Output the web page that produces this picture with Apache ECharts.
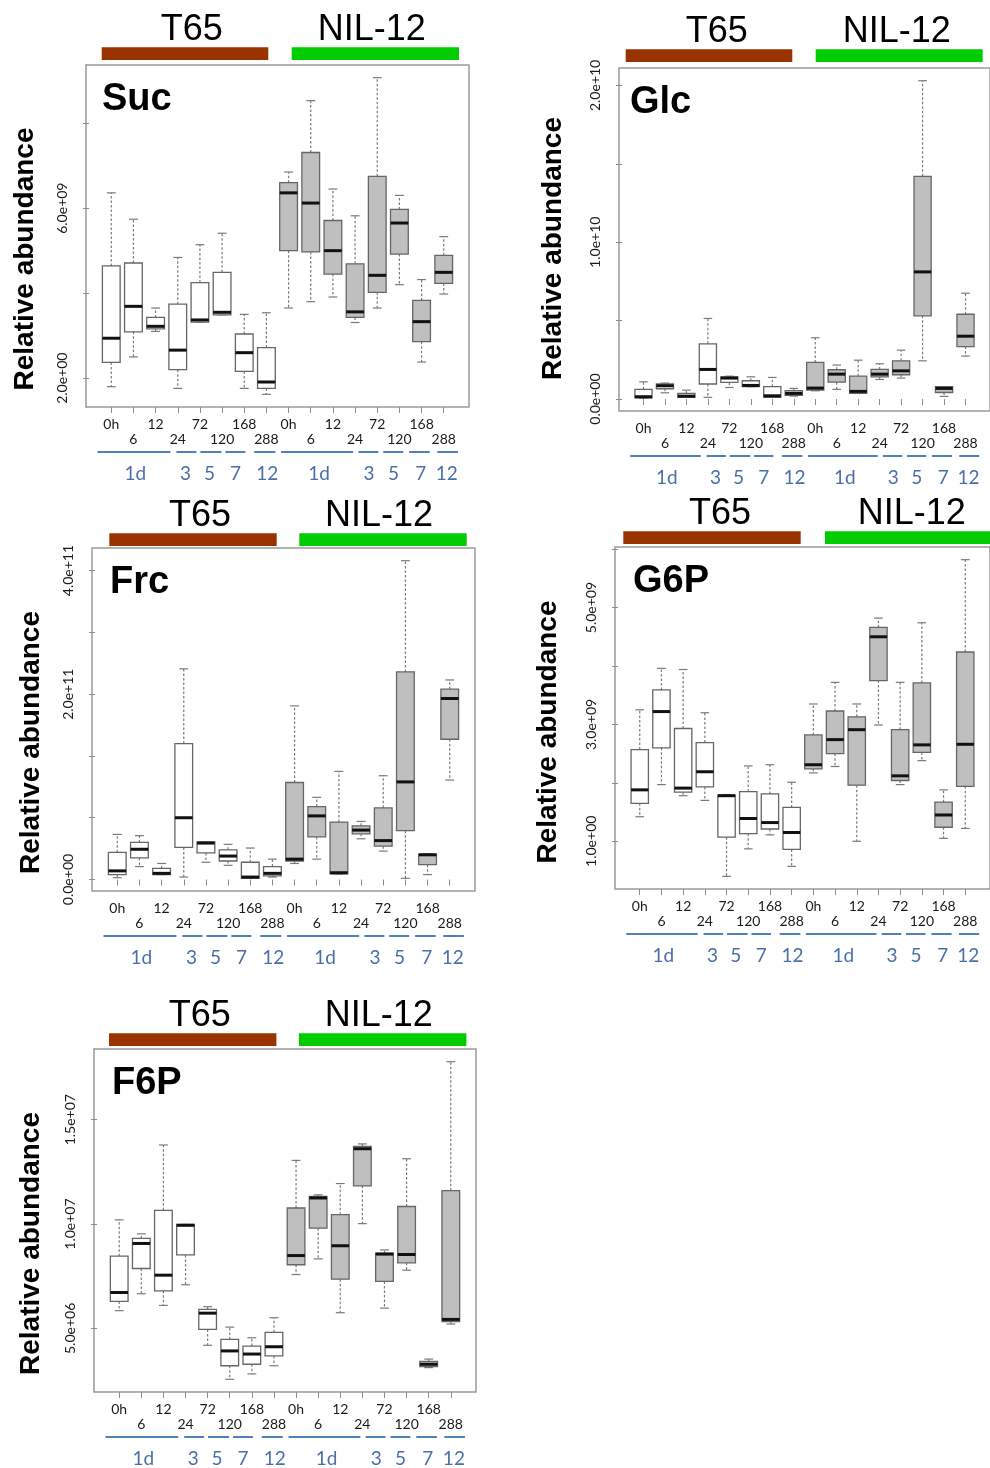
<!DOCTYPE html>
<html>
<head>
<meta charset="utf-8">
<script src="https://cdn.jsdelivr.net/npm/echarts@6/dist/echarts.min.js"></script>
<style>
html, body { margin: 0; padding: 0; background: #fff; }
#chart { width: 990px; height: 1468px; }
</style>
</head>
<body>
<div id="chart"></div>
<script>
const timeLabels = ['0h', '6', '12', '24', '72', '120', '168', '288']
const lineNames = ['T65', 'NIL-12']
const dayLabels = ['1d', '3', '5', '7', '12', '1d', '3', '5', '7', '12']
// blue day brackets under the axis, in box positions (1..16)
const daySpans = [[0.38, 3.67], [3.94, 4.84], [5.02, 5.97], [6.15, 7.05], [7.45, 8.4],
  [8.66, 11.91], [12.15, 13.05], [13.27, 14.17], [14.44, 15.37], [15.71, 16.64]]
const dayLabelPos = [2.09, 4.35, 5.43, 6.6, 8.04, 10.38, 12.63, 13.73, 14.96, 16.14]

// each box: [lower whisker, Q1, median, Q3, upper whisker]; 8 x T65 then 8 x NIL-12
const sucBoxes = [
  [1.80, 2.37, 2.94, 4.64, 6.36], [2.50, 3.09, 3.69, 4.71, 5.74], [3.10, 3.16, 3.22, 3.43, 3.65], [1.76, 2.20, 2.66, 3.74, 4.84],
  [3.32, 3.32, 3.37, 4.25, 5.14], [3.49, 3.49, 3.55, 4.49, 5.41], [1.76, 2.16, 2.60, 3.04, 3.50], [1.62, 1.76, 1.91, 2.72, 3.54],
  [3.65, 5.00, 6.36, 6.60, 6.85], [3.80, 4.97, 6.12, 7.31, 8.53], [3.91, 4.45, 5.00, 5.71, 6.45], [3.31, 3.43, 3.56, 4.69, 5.82],
  [3.65, 4.02, 4.42, 6.75, 9.07], [4.20, 4.92, 5.65, 5.97, 6.30], [2.38, 2.86, 3.33, 3.83, 4.32], [3.98, 4.23, 4.49, 4.89, 5.33]
]
const sucTicks = [2, 4, 6, 8]
const sucTickLabels = ['2.0e+00', '', '6.0e+09', '']

const glcBoxes = [
  [0.05, 0.08, 0.15, 0.62, 1.10], [0.40, 0.66, 0.85, 0.96, 1.02], [0.11, 0.11, 0.19, 0.36, 0.57], [0.11, 0.96, 1.89, 3.52, 5.14],
  [0.74, 1.06, 1.34, 1.42, 1.46], [0.79, 0.79, 0.87, 1.17, 1.42], [0.11, 0.11, 0.21, 0.79, 1.38], [0.19, 0.23, 0.36, 0.53, 0.68],
  [0.53, 0.57, 0.70, 2.34, 3.91], [0.62, 1.08, 1.59, 1.87, 2.17], [0.36, 0.36, 0.49, 1.46, 2.48], [1.25, 1.42, 1.59, 1.89, 2.25],
  [1.34, 1.55, 1.80, 2.44, 3.12], [2.44, 5.31, 8.11, 14.20, 20.30], [0.17, 0.42, 0.68, 0.79, 0.79], [2.74, 3.35, 4.01, 5.41, 6.75]
]
const glcTicks = [0, 5, 10, 15, 20]
const glcTickLabels = ['0.0e+00', '', '1.0e+10', '', '2.0e+10']

// Frc values are in tick steps (the printed labels are not evenly spaced)
const frcBoxes = [
  [0.03, 0.08, 0.14, 0.44, 0.73], [0.21, 0.35, 0.49, 0.60, 0.71], [0.08, 0.08, 0.10, 0.18, 0.26], [0.04, 0.52, 1.00, 2.20, 3.41],
  [0.28, 0.43, 0.59, 0.61, 0.61], [0.23, 0.30, 0.38, 0.48, 0.57], [0.02, 0.02, 0.04, 0.28, 0.51], [0.04, 0.06, 0.10, 0.21, 0.33],
  [0.26, 0.30, 0.33, 1.57, 2.81], [0.33, 0.69, 1.03, 1.18, 1.33], [0.09, 0.09, 0.11, 0.93, 1.75], [0.66, 0.74, 0.80, 0.87, 0.94],
  [0.46, 0.54, 0.63, 1.16, 1.68], [0.02, 0.79, 1.58, 3.36, 5.16], [0.08, 0.24, 0.40, 0.41, 0.42], [1.61, 2.27, 2.93, 3.08, 3.23]
]
const frcTicks = [0, 1, 2, 3, 4, 5]
const frcTickLabels = ['0.0e+00', '', '', '2.0e+11', '', '4.0e+11']

const g6pBoxes = [
  [1.42, 1.65, 1.88, 2.57, 3.25], [1.97, 2.60, 3.22, 3.59, 3.96], [1.78, 1.84, 1.91, 2.93, 3.94], [1.70, 1.93, 2.19, 2.69, 3.20],
  [0.40, 1.07, 1.78, 1.79, 1.80], [0.87, 1.13, 1.39, 1.85, 2.29], [1.11, 1.21, 1.32, 1.81, 2.31], [0.57, 0.86, 1.15, 1.58, 2.01],
  [2.17, 2.24, 2.31, 2.82, 3.35], [2.28, 2.50, 2.74, 3.23, 3.72], [1.00, 1.96, 2.91, 3.13, 3.35], [2.99, 3.75, 4.50, 4.66, 4.82],
  [1.97, 2.04, 2.12, 2.91, 3.72], [2.38, 2.52, 2.65, 3.71, 4.74], [1.05, 1.24, 1.45, 1.67, 1.88], [1.22, 1.94, 2.66, 4.24, 5.82]
]
const g6pTicks = [1, 2, 3, 4, 5, 6]
const g6pTickLabels = ['1.0e+00', '', '3.0e+09', '', '5.0e+09', '']

const f6pBoxes = [
  [5.85, 6.29, 6.72, 8.46, 10.20], [6.66, 7.87, 9.07, 9.31, 9.53], [6.10, 6.80, 7.55, 10.66, 13.79], [7.09, 8.52, 9.94, 9.98, 9.98],
  [4.19, 4.95, 5.73, 5.91, 6.04], [2.56, 3.21, 3.92, 4.47, 5.06], [2.82, 3.28, 3.77, 4.15, 4.55], [3.21, 3.68, 4.12, 4.81, 5.51],
  [7.58, 8.05, 8.49, 10.77, 13.05], [8.33, 9.80, 11.25, 11.32, 11.40], [5.75, 7.36, 8.96, 10.45, 11.94], [10.02, 11.83, 13.61, 13.72, 13.84],
  [5.97, 7.25, 8.56, 8.60, 8.76], [7.79, 8.14, 8.54, 10.84, 13.13], [3.12, 3.17, 3.28, 3.42, 3.53], [5.21, 5.32, 5.43, 11.60, 17.78]
]
const f6pTicks = [5, 10, 15]
const f6pTickLabels = ['5.0e+06', '1.0e+07', '1.5e+07']

// layout of the five panels (frame in px, header = bar/label offsets from frame left)
const panels = [
  { name: 'Suc', boxes: sucBoxes, ticks: sucTicks, tickLabels: sucTickLabels,
    left: 86, top: 65, width: 383, height: 342, barGap: 5,
    header: [15.7, 182.3, 205.7, 373, 105.7, 285.7], titleDx: 16, yNameDx: -61, yNameDy: 23 },
  { name: 'Glc', boxes: glcBoxes, ticks: glcTicks, tickLabels: glcTickLabels,
    left: 619, top: 68, width: 383, height: 343, barGap: 6,
    header: [6.7, 173.3, 196.7, 363.7, 97.7, 277.7], titleDx: 11, yNameDx: -66, yNameDy: 9 },
  { name: 'Frc', boxes: frcBoxes, ticks: frcTicks, tickLabels: frcTickLabels,
    left: 92, top: 548, width: 383, height: 343, barGap: 2,
    header: [17.3, 184.7, 207.3, 374.7, 108, 287], titleDx: 18, yNameDx: -61, yNameDy: 23 },
  { name: 'G6P', boxes: g6pBoxes, ticks: g6pTicks, tickLabels: g6pTickLabels,
    left: 615, top: 547, width: 383, height: 342, barGap: 3,
    header: [8.3, 185.7, 210, 387, 105, 296.7], titleDx: 18, yNameDx: -67, yNameDy: 14 },
  { name: 'F6P', boxes: f6pBoxes, ticks: f6pTicks, tickLabels: f6pTickLabels,
    left: 94, top: 1049, width: 382, height: 343, barGap: 3,
    header: [15, 182.4, 205, 372.4, 105.7, 284.7], titleDx: 18, yNameDx: -63, yNameDy: 23 }
]

const positions = timeLabels.concat(timeLabels).map((_, i) => i + 1)
const oddPositions = positions.filter(v => v % 2 === 1)
const evenPositions = positions.filter(v => v % 2 === 0)
const xMin = 0.5 - 0.04 * 16
const xMax = 16.5 + 0.04 * 16
const labelFont = 'Lato, "Open Sans", sans-serif'
const arial = '"Liberation Sans", Arial, sans-serif'

function yRange(boxes) {
    const lo = Math.min(...boxes.map(b => b[0]))
    const hi = Math.max(...boxes.map(b => b[4]))
    const pad = (hi - lo) * 0.04
    return [lo - pad, hi + pad]
}

function drawBox(fill) {
    return function (params, api) {
        const x = api.value(0)
        const cx = api.coord([x, api.value(1)])[0]
        const yLo = api.coord([x, api.value(1)])[1]
        const yQ1 = api.coord([x, api.value(2)])[1]
        const yMed = api.coord([x, api.value(3)])[1]
        const yQ3 = api.coord([x, api.value(4)])[1]
        const yHi = api.coord([x, api.value(5)])[1]
        const half = api.size([0.4, 0])[0]
        const cap = api.size([0.2, 0])[0]
        const whisker = { stroke: '#7a7a7a', lineWidth: 1.2, lineDash: [2.5, 2] }
        const capStyle = { stroke: '#7a7a7a', lineWidth: 1.2 }
        return {
            type: 'group',
            children: [
                { type: 'line', shape: { x1: cx, y1: yQ3, x2: cx, y2: yHi }, style: whisker },
                { type: 'line', shape: { x1: cx, y1: yQ1, x2: cx, y2: yLo }, style: whisker },
                { type: 'line', shape: { x1: cx - cap, y1: yHi, x2: cx + cap, y2: yHi }, style: capStyle },
                { type: 'line', shape: { x1: cx - cap, y1: yLo, x2: cx + cap, y2: yLo }, style: capStyle },
                { type: 'rect', shape: { x: cx - half, y: yQ3, width: half * 2, height: Math.max(yQ1 - yQ3, 1) },
                  style: { fill: fill, stroke: '#666', lineWidth: 1.3 } },
                { type: 'line', shape: { x1: cx - half, y1: yMed, x2: cx + half, y2: yMed },
                  style: { stroke: '#111', lineWidth: 3 } }
            ]
        }
    }
}

function timeAxis(i, values, margin, withTicks) {
    return {
        type: 'value', gridIndex: i, position: 'bottom', offset: 0, min: xMin, max: xMax,
        splitLine: { show: false },
        axisLine: { show: false },
        axisTick: { show: withTicks, customValues: positions, length: 6, lineStyle: { color: '#8c8c8c' } },
        axisLabel: {
            customValues: values, margin: margin, fontSize: 14,
            showMinLabel: true, showMaxLabel: true, hideOverlap: false,
            color: '#1a1a1a', fontFamily: labelFont,
            formatter: v => timeLabels[(Math.round(v) - 1) % 8]
        }
    }
}

const xAxes = []
panels.forEach((p, i) => {
    xAxes.push(timeAxis(i, oddPositions, 10, true))   // first row: 0h 12 72 168
    xAxes.push(timeAxis(i, evenPositions, 25, false)) // second row: 6 24 120 288
})

const option = {
    animation: false,
    backgroundColor: '#fff',
    grid: panels.map(p => ({
        left: p.left, top: p.top, width: p.width, height: p.height,
        show: true, borderColor: '#9a9a9a', borderWidth: 1.5, backgroundColor: 'transparent'
    })),
    xAxis: xAxes,
    yAxis: panels.map((p, i) => {
        const r = yRange(p.boxes)
        const labelled = p.ticks.filter((t, k) => p.tickLabels[k] !== '')
        return {
            type: 'value', gridIndex: i, min: r[0], max: r[1],
            splitLine: { show: false },
            axisLine: { show: false },
            axisTick: { show: true, customValues: p.ticks, length: 6, lineStyle: { color: '#8c8c8c' } },
            axisLabel: {
                customValues: labelled, rotate: 90, margin: 17, fontSize: 14,
                showMinLabel: true, showMaxLabel: true,
                color: '#1a1a1a', fontFamily: labelFont,
                formatter: v => p.tickLabels[p.ticks.indexOf(v)]
            }
        }
    }),
    series: []
}

panels.forEach((p, i) => {
    lineNames.forEach((ln, g) => {
        option.series.push({
            type: 'custom',
            name: p.name + ' ' + ln,
            xAxisIndex: i * 2, yAxisIndex: i,
            encode: { x: 0, y: [1, 2, 3, 4, 5] },
            renderItem: drawBox(g === 0 ? '#ffffff' : '#bfbfbf'),
            data: p.boxes.slice(g * 8, g * 8 + 8).map((b, k) => [g * 8 + k + 1].concat(b))
        })
    })
})

const chart = echarts.init(document.getElementById('chart'))
chart.setOption(option)

const graphics = []
panels.forEach((p, i) => {
    const h = p.header
    const barH = 12.7
    const barTop = p.top - p.barGap - barH
    graphics.push(
        { type: 'rect', shape: { x: p.left + h[0], y: barTop, width: h[1] - h[0], height: barH }, style: { fill: '#993300' } },
        { type: 'rect', shape: { x: p.left + h[2], y: barTop, width: h[3] - h[2], height: barH }, style: { fill: '#00cc00' } },
        { type: 'text', x: p.left + h[4], y: barTop + 1,
          style: { text: lineNames[0], font: '36px ' + arial, fill: '#000', align: 'center', verticalAlign: 'bottom' } },
        { type: 'text', x: p.left + h[5], y: barTop + 1,
          style: { text: lineNames[1], font: '36px ' + arial, fill: '#000', align: 'center', verticalAlign: 'bottom' } },
        { type: 'text', x: p.left + p.titleDx, y: p.top + 35,
          style: { text: p.name, font: 'bold 38px ' + arial, fill: '#000', align: 'left', verticalAlign: 'middle' } },
        { type: 'text', x: p.left + p.yNameDx, y: p.top + p.height / 2 + p.yNameDy, rotation: Math.PI / 2,
          style: { text: 'Relative abundance', font: 'bold 28px ' + arial, fill: '#000', align: 'center', verticalAlign: 'middle' } }
    )
    const bottom = p.top + p.height
    const finder = { xAxisIndex: i * 2, yAxisIndex: i }
    daySpans.forEach((s, k) => {
        const x0 = chart.convertToPixel(finder, [s[0], 0])[0]
        const x1 = chart.convertToPixel(finder, [s[1], 0])[0]
        graphics.push({ type: 'line', shape: { x1: x0, y1: bottom + 45, x2: x1, y2: bottom + 45 },
            style: { stroke: '#4f81bd', lineWidth: 2 } })
        const xl = chart.convertToPixel(finder, [dayLabelPos[k], 0])[0]
        graphics.push({ type: 'text', x: xl, y: bottom + 67,
            style: { text: dayLabels[k], font: '19px ' + labelFont, fill: '#4a6fa8', align: 'center', verticalAlign: 'middle' } })
    })
})
chart.setOption({ graphic: graphics })
</script>
</body>
</html>
